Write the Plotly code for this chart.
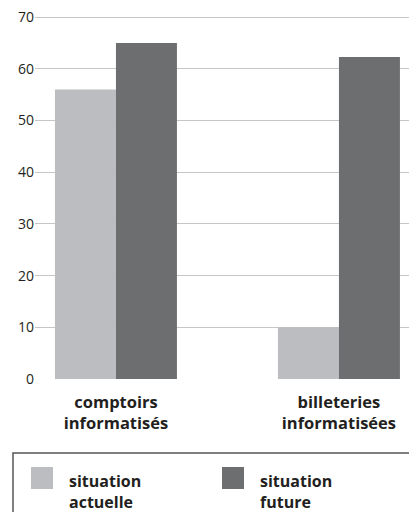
import plotly.graph_objects as go

categories = ["comptoirs<br>informatisés", "billeteries<br>informatisées"]
series_names = ["situation<br>actuelle", "situation<br>future"]
actuelle = [56, 10]
future = [65, 62.3]
y_ticks = [0, 10, 20, 30, 40, 50, 60, 70]

light = "#bcbdc0"
dark = "#6d6e70"
text_col = "#231f20"
font_fam = "'Open Sans', Lato, sans-serif"

# page has an 8px body margin; work in figure coordinates
W, H = 409, 504
L, R, T, B = 27, 0, 4, 133
PW = W - L - R
PH = H - T - B

def px(x):
    return (x - L) / PW

def py(y):
    return (H - B - y) / PH

fig = go.Figure()
fig.add_trace(go.Bar(x=[0, 1], y=actuelle, name="situation actuelle", marker=dict(color=light, line=dict(width=0)), showlegend=False))
fig.add_trace(go.Bar(x=[0, 1], y=future, name="situation future", marker=dict(color=dark, line=dict(width=0)), showlegend=False))

fig.update_layout(
    width=W, height=H,
    margin=dict(l=L, r=R, t=T, b=B),
    paper_bgcolor="white", plot_bgcolor="white",
    barmode="group", bargap=0.453, bargroupgap=0,
    font=dict(family=font_fam, color=text_col),
    xaxis=dict(range=[-0.363, 1.35], tickvals=[0, 1], ticktext=[f"<b>{c}</b>" for c in categories],
               tickfont=dict(size=16.5, color=text_col), showgrid=False, zeroline=False, showline=False, ticks="",
               ticklabelstandoff=11),
    yaxis=dict(range=[0, 71], tickvals=y_ticks, showgrid=True, gridcolor="#c6c6c6", gridwidth=1,
               zeroline=False, showline=False, tickfont=dict(size=14, color=text_col), ticks="",
               ticklabeloverflow="allow"),
)

# legend box (manual)
fig.add_shape(type="rect", xref="paper", yref="paper", x0=px(5), x1=1.05,
              y0=py(520), y1=py(445), line=dict(color="#555555", width=1.5), fillcolor="rgba(0,0,0,0)")
for sx, col, name in [(23, light, series_names[0]), (214, dark, series_names[1])]:
    fig.add_shape(type="rect", xref="paper", yref="paper", x0=px(sx), x1=px(sx + 22),
                  y0=py(481), y1=py(459), line=dict(width=0), fillcolor=col)
    fig.add_annotation(xref="paper", yref="paper", x=px(sx + 36), y=py(483),
                       xanchor="left", yanchor="middle", align="left", showarrow=False,
                       text=f"<b>{name}</b>", font=dict(size=16, color=text_col, family=font_fam))

fig.write_html("out.html")
